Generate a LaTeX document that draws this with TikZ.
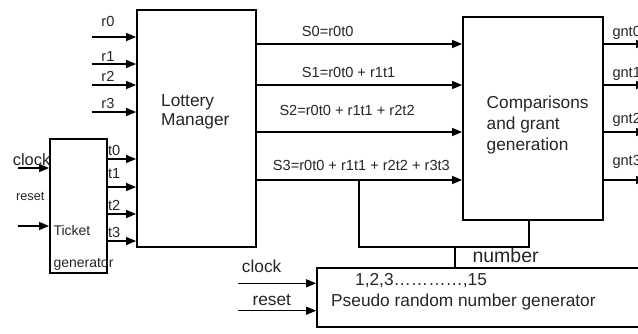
\documentclass[tikz,border=0pt]{standalone}
\usepackage{fontspec}
\setmainfont{Liberation Sans}
\usetikzlibrary{arrows.meta}
\begin{document}
\begin{tikzpicture}[x=1pt,y=-1pt,
  box/.style={draw=black,line width=1.8pt,inner sep=0pt},
  arr/.style={line width=1.3pt,-{Triangle[length=10pt,width=8pt]}},
  wire/.style={line width=1.3pt},
  lbl/.style={inner sep=0pt,anchor=base west,text=black!85},
  sm/.style={lbl,font=\fontsize{14.6}{17}\selectfont},
  md/.style={lbl,font=\fontsize{17.3}{20}\selectfont},
]
\useasboundingbox (0,0) rectangle (638,333);
\fill[white] (0,0) rectangle (638,333);

% functional blocks
\node[box,minimum width=119pt,minimum height=237pt] (lm) at (196.5,128.5) {};
\node[box,minimum width=57pt,minimum height=134pt] (tg) at (78.5,206) {};
\node[box,minimum width=140pt,minimum height=203pt] (cg) at (533,118.5) {};
\node[box,minimum width=330pt,minimum height=59pt] (pr) at (482,297.5) {};

% block titles
\node[md] (lm1) at (161,106) {Lottery};
\node[md] (lm2) at (161,125.5) {Manager};
\node[md] (cg1) at (486.5,108.5) {Comparisons};
\node[md] (cg2) at (486.5,129.5) {and grant};
\node[md] (cg3) at (486.5,150.5) {generation};
\node[lbl,font=\fontsize{14}{16}\selectfont] (tg1) at (53.3,235) {Ticket};
\node[lbl,font=\fontsize{14}{16}\selectfont] (tg2) at (53.3,267) {generator};
\node[md] (pr1) at (355,285.7) {1,2,3…………,15};
\node[md] (pr2) at (331,306) {Pseudo random number generator};

% request inputs
\foreach \i/\y/\ly in {0/37/26.7,1/64/61,2/85/81,3/112/108.3}{
  \coordinate (r\i) at (91.7,\y);
  \draw[arr] (r\i) -- (r\i -| lm.west);
  \node[sm] (rl\i) at (101.2,\ly) {r\i};
}

% ticket outputs
\foreach \i/\y/\ly in {0/159/155.7,1/187/178.3,2/214/210,3/241/237.3}{
  \coordinate (t\i) at (100,\y);
  \draw[arr] (t\i -| tg.east) -- (t\i -| lm.west);
  \node[sm] (tl\i) at (107.8,\ly) {t\i};
}

% ticket generator control inputs
\coordinate (tclk) at (18.3,168);
\coordinate (trst) at (18.3,226);
\draw[arr] (tclk) -- (tclk -| tg.west);
\draw[arr] (trst) -- (trst -| tg.west);
\node[lbl,font=\fontsize{16.4}{18}\selectfont] (tclkl) at (12.7,165) {clock};
\node[lbl,font=\fontsize{12.7}{15}\selectfont] (trstl) at (16,200.7) {reset};

% partial sums
\coordinate (s0) at (300,44);
\coordinate (s1) at (300,85);
\coordinate (s2) at (300,132);
\coordinate (s3) at (300,180);
\foreach \i in {0,...,3}{
  \draw[arr] (s\i -| lm.east) -- (s\i -| cg.west);
}
\node[sm] (sl0) at (301.7,36.7) {S0=r0t0};
\node[sm] (sl1) at (301.7,77.3) {S1=r0t0 + r1t1};
\node[sm] (sl2) at (279.3,115) {S2=r0t0 + r1t1 + r2t2};
\node[sm] (sl3) at (272.7,170.7) {S3=r0t0 + r1t1 + r2t2 + r3t3};

% grant outputs
\foreach \i/\ly in {0/36,1/77.3,2/123.3,3/165}{
  \coordinate (g\i) at (646,0 |- s\i);
  \draw[arr] (s\i -| cg.east) -- (g\i);
  \node[sm] (gl\i) at (612.3,\ly) {gnt\i};
}

% random number bus
\coordinate (bl) at (359,247);
\coordinate (br) at (529,247);
\coordinate (bn) at (455,247);
\draw[wire] (bl |- s3) -- (bl) -- (br) -- (br |- cg.south);
\draw[wire] (bn) -- (bn |- pr.north);
\node[lbl,font=\fontsize{19.5}{22}\selectfont] (nl) at (472.3,262.3) {number};

% generator control inputs
\coordinate (pclk) at (238.3,283.3);
\coordinate (prst) at (238.3,310.7);
\draw[arr] (pclk) -- (pclk -| pr.west);
\draw[arr] (prst) -- (prst -| pr.west);
\node[md] (pclkl) at (241.7,272.7) {clock};
\node[md] (prstl) at (252.3,305.7) {reset};
\end{tikzpicture}
\end{document}
